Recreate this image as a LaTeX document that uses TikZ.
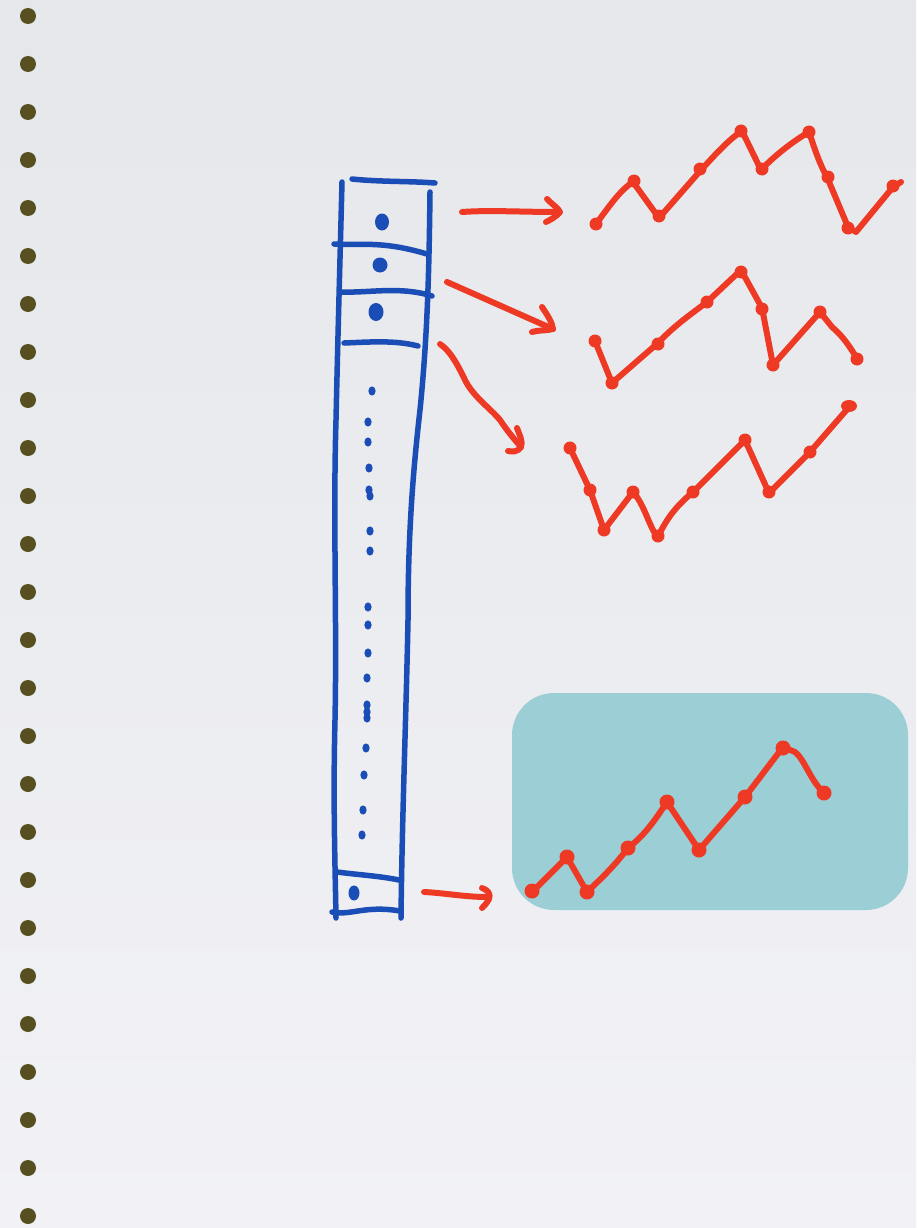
\documentclass[tikz,border=0pt]{standalone}
\begin{document}
\begin{tikzpicture}[x=1pt,y=-1pt,
  blue ink/.style={draw=inkblue,line width=5.5pt,line cap=round,line join=round},
  red ink/.style={draw=inkred,line width=6pt,line cap=round,line join=round},
  red dot/.style={fill=inkred},
  blue dot/.style={fill=inkblue},
  margin dot/.style={fill=margindot}]
\definecolor{inkblue}{HTML}{1A4DB5}
\definecolor{inkred}{HTML}{EE3A24}
\definecolor{margindot}{HTML}{574E22}
\definecolor{bgtop}{HTML}{E5E7EB}
\definecolor{bgbot}{HTML}{F2F2F6}
\definecolor{teal}{HTML}{9CCED5}
% background
\shade[top color=bgtop,bottom color=bgbot] (0,0) rectangle (916,1228);
\useasboundingbox (0,0) rectangle (916,1228);
% margin dots
\foreach \i in {0,...,25} {
  \fill[margin dot] (28,16+48*\i) circle (8);
}
% column
\draw[blue ink] (342,182) .. controls (340,260) and (338,330) .. (336,420) .. controls (333,520) and (337,620) .. (335,720) .. controls (333,800) and (335,860) .. (336,918);
\draw[blue ink] (430,192) .. controls (429,280) and (427,340) .. (420,410) .. controls (412,480) and (408,540) .. (408,620) .. controls (406,720) and (402,820) .. (401,918);
\draw[blue ink] (352,179) .. controls (380,182) and (410,181) .. (435,183);
\draw[blue ink] (334,244) .. controls (360,246) and (380,240) .. (427,254);
\draw[blue ink] (342,292) .. controls (370,293) and (400,286) .. (432,296);
\draw[blue ink] (344,343) .. controls (370,342) and (395,340) .. (418,346);
\draw[blue ink] (337,872) .. controls (360,875) and (380,876) .. (399,880);
\draw[blue ink] (332,912) .. controls (350,916) and (365,905) .. (400,911);
% blobs in cells
\fill[blue dot] (382,222) ellipse (7 and 8.5);
\fill[blue dot] (380,265) ellipse (7.5 and 7.5);
\fill[blue dot] (376,312) ellipse (7.5 and 9);
\fill[blue dot] (354,893) ellipse (5.5 and 7.5);
% dotted middle
\foreach \x/\y in {372/391,368/422,368/442,369/468,369/490,370/496,370/531,370/551,368/607,368/625,368/653,367/678,367/705,367/712,367/718,366/748,364/775,363/810,362/835} {
  \fill[blue dot] (\x,\y) ellipse (3.6 and 4.6);
}
% arrows
\draw[red ink] (462,212) .. controls (490,210) and (520,212) .. (558,212);
\draw[red ink] (547,199) .. controls (553,205) and (558,208) .. (560,212) .. controls (556,217) and (550,220) .. (546,222);
\draw[red ink] (447,282) -- (553,329);
\draw[red ink] (542,307) .. controls (548,316) and (552,322) .. (553,329) .. controls (545,331) and (538,330) .. (532,332);
\draw[red ink] (440,344) .. controls (452,352) and (460,370) .. (466,382) .. controls (475,398) and (490,408) .. (500,420) .. controls (508,432) and (515,440) .. (521,447);
\draw[red ink] (517,428) .. controls (520,436) and (523,442) .. (521,447) .. controls (518,452) and (512,452) .. (508,451);
\draw[red ink] (424,892) .. controls (445,893) and (465,897) .. (487,897);
\draw[red ink] (482,888) .. controls (488,890) and (491,894) .. (489,899) .. controls (487,903) and (484,906) .. (482,908);
% chart 1
\draw[red ink] (596,224) .. controls (608,208) and (620,190) .. (633,182) -- (659,218) -- (701,170) .. controls (715,155) and (728,140) .. (742,131) -- (761,170) .. controls (775,155) and (795,140) .. (809,132) .. controls (815,150) and (820,165) .. (827,177) -- (848,227) -- (856,232) -- (893,187) -- (901,182);
\foreach \x/\y in {596/224,634/181,659/216,700/169,741/131,762/169,809/132,828/177,848/228,893/186} {
  \fill[red dot] (\x,\y) circle (6.5);
}
% chart 2
\draw[red ink] (595,341) -- (612,383) -- (658,343) .. controls (675,325) and (690,315) .. (707,302) -- (741,270) -- (762,308) -- (773,365) -- (820,312) -- (832,327) .. controls (845,338) and (850,348) .. (857,358);
\foreach \x/\y in {595/341,612/383,658/344,707/302,741/272,762/309,773/365,820/312,857/359} {
  \fill[red dot] (\x,\y) circle (6.5);
}
% chart 3
\draw[red ink] (570,448) -- (590,490) -- (604,530) -- (633,492) .. controls (645,505) and (650,530) .. (658,537) .. controls (668,515) and (680,503) .. (693,492) -- (745,440) -- (769,493) -- (810,452) -- (850,406);
\foreach \x/\y in {570/448,590/490,604/530,633/492,658/536,693/492,745/440,769/492,810/452} {
  \fill[red dot] (\x,\y) circle (6.5);
}
\fill[red dot] (849,406) ellipse (8 and 6);
% highlighted chart
\fill[teal] (512,693) [rounded corners=42] rectangle (908,910);
\draw[red ink] (532,892) -- (567,857) -- (587,892) .. controls (605,875) and (615,865) .. (628,848) .. controls (645,835) and (655,820) .. (667,802) -- (699,850) -- (745,797) -- (783,747) -- (795,752) .. controls (805,760) and (810,780) .. (824,793);
\foreach \x/\y in {532/891,567/857,587/892,628/848,667/802,699/850,745/797,783/748,824/793} {
  \fill[red dot] (\x,\y) circle (7.5);
}
\end{tikzpicture}
\end{document}
